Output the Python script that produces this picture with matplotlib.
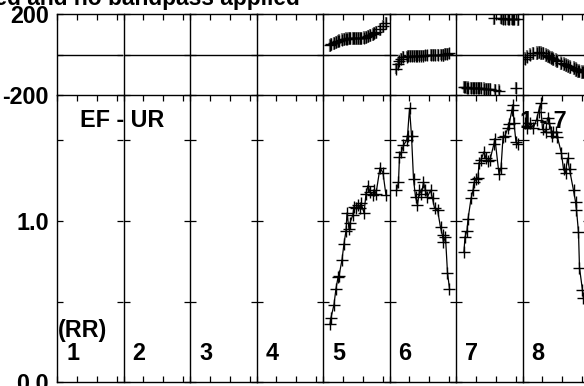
import matplotlib
matplotlib.use("Agg")
import matplotlib.pyplot as plt

plt.rcParams['font.family'] = ['Liberation Sans', 'DejaVu Sans']
plt.rcParams['font.weight'] = 'bold'

# ---------------- data ----------------
panel_labels = ["1", "2", "3", "4", "5", "6", "7", "8"]
title_text = "Calibrated and no bandpass applied"
baseline_label = "EF - UR"
ant_label = "1 - 7"
pol_label = "(RR)"

# time within each panel (minutes, 0-10)
t5 = [1.05, 1.2, 1.65, 1.95, 2.26, 2.41, 2.86, 3.16, 3.46, 3.61, 3.91, 4.06, 4.51, 4.66,
      4.96, 5.26, 5.56, 5.71, 6.17, 6.47, 6.77, 7.07, 7.52, 7.67, 7.97, 8.57, 9.02, 9.47]
amp5 = [0.36, 0.40, 0.48, 0.58, 0.65, 0.66, 0.76, 0.86, 0.94, 1.05, 0.95, 0.99, 1.04, 1.09,
        1.08, 1.10, 1.08, 1.11, 1.05, 1.17, 1.22, 1.18, 1.16, 1.19, 1.17, 1.33, 1.30, 1.16]
ph5 = [45, 50, 55, 60, 65, 68, 72, 75, 78, 78, 80, 80, 80, 80,
       80, 80, 80, 80, 82, 85, 90, 95, 100, 105, 110, 125, 140, 155]

t6 = [1.05, 1.35, 1.5, 1.8, 2.1, 2.56, 2.71, 3.01, 3.31, 3.61, 3.91, 4.21, 4.51, 4.81,
      5.11, 5.41, 5.71, 6.17, 6.47, 6.77, 7.22, 7.67, 7.97, 8.12, 8.42, 8.72, 9.02]
amp6 = [1.19, 1.24, 1.40, 1.43, 1.47, 1.50, 1.53, 1.70, 1.53, 1.26, 1.15, 1.10, 1.19, 1.17,
        1.24, 1.19, 1.15, 1.19, 1.14, 1.08, 1.07, 0.96, 0.91, 0.87, 0.90, 0.68, 0.58]
ph6 = [-70, -45, -30, -20, -12, -10, -8, -8, -7, -7, -6, -6, -5, -5,
       -5, -4, -4, -3, -3, -2, -2, -1, 0, 0, 2, 3, 5]

t7 = [1.2, 1.35, 1.65, 1.8, 2.26, 2.56, 2.71, 3.01, 3.31, 3.46, 3.76, 4.21, 4.51, 4.81,
      5.11, 5.71, 5.86, 6.47, 6.77, 7.07, 7.37, 7.82, 7.97, 8.42, 8.57, 8.72, 9.02, 9.32]
amp7 = [0.81, 0.90, 0.94, 1.01, 1.14, 1.19, 1.24, 1.26, 1.27, 1.36, 1.38, 1.43, 1.39, 1.37,
        1.38, 1.48, 1.51, 1.29, 1.33, 1.52, 1.53, 1.58, 1.60, 1.69, 1.72, 1.61, 1.49, 1.48]
ph7 = [-160, -162, -163, -163, -164, -165, -165, -166, -166, -167, -167, -168, -169, -170,
       -171, 178, -175, -178, 179, 177, 176, 175, 175, 174, 174, 174, -165, 173]

t8 = [0.45, 0.75, 1.2, 1.65, 2.11, 2.41, 2.71, 3.01, 3.46, 3.76, 4.06, 4.36, 4.51, 4.66,
      5.11, 5.26, 5.86, 6.17, 6.47, 6.77, 7.07, 7.67, 7.97, 8.12, 8.42, 8.57, 9.02, 9.17]
amp8 = [1.61, 1.58, 1.61, 1.58, 1.63, 1.68, 1.73, 1.57, 1.55, 1.64, 1.61, 1.55, 1.53, 1.55,
        1.55, 1.52, 1.42, 1.32, 1.30, 1.39, 1.32, 1.19, 1.12, 1.07, 0.93, 0.71, 0.57, 0.52]
ph8 = [-20, -10, 0, 5, 8, 10, 8, 5, -2, -6, -10, -15, -18, -22,
       -28, -32, -42, -46, -50, -55, -60, -68, -73, -75, -80, -82, -86, -88]

phase_err = [32, 28, 30, 34]

panel_data = {4: (t5, amp5, ph5, phase_err[0]),
              5: (t6, amp6, ph6, phase_err[1]),
              6: (t7, amp7, ph7, phase_err[2]),
              7: (t8, amp8, ph8, phase_err[3])}

# ---------------- layout ----------------
W, H = 584, 386
fig = plt.figure(figsize=(W / 100, H / 100), dpi=100)

x0 = 57.0
pw = 66.5
low_top, low_bot = 95.0, 382.0
up_top, up_bot = 14.0, 95.0
FS = 16.8

amp_top = (low_bot - low_top) / 161.0

def fx(px):
    return px / W

def fy(py):
    return 1 - py / H

for i, lab in enumerate(panel_labels):
    left = (x0 + i * pw) / W
    axl = fig.add_axes([left, (H - low_bot) / H, pw / W, (low_bot - low_top) / H])
    axu = fig.add_axes([left, (H - up_bot) / H, pw / W, (up_bot - up_top) / H])

    for ax in (axl, axu):
        ax.patch.set_visible(False)
        ax.set_xlim(0, 10)
        ax.set_xticks([0, 3, 6, 9])
        ax.set_xticklabels([])
        for s in ax.spines.values():
            s.set_linewidth(1.0)
            s.set_color('black')
        if i < len(panel_labels) - 1:
            ax.spines['right'].set_visible(False)
        ax.tick_params(direction='in', length=4.5, width=0.9, color='black',
                       top=True, right=True, labelsize=FS)
    axu.tick_params(bottom=False)
    axu.spines['bottom'].set_visible(False)

    axl.set_ylim(0, amp_top)
    axl.set_yticks([0, 0.5, 1.0, 1.5])
    axu.set_ylim(-200, 200)
    axu.set_yticks([-200, 0, 200])
    axu.axhline(0, color='black', lw=1.0)

    if i == 0:
        axl.set_yticklabels(['0.0', '', '1.0', ''], fontweight='bold')
        axu.set_yticklabels(['-200', '', '200'], fontweight='bold')
        axl.tick_params(axis='y', pad=6)
        axu.tick_params(axis='y', pad=6)
    else:
        axl.set_yticklabels([])
        axu.set_yticklabels([])

    fig.text(fx(x0 + i * pw + 9), fy(360), lab, fontsize=FS, fontweight='bold',
             ha='left', va='baseline', zorder=10)

    if i in panel_data:
        t, amp, ph, err = panel_data[i]
        axl.plot(t, amp, color='black', lw=0.9, marker='+', markersize=8,
                 markeredgewidth=1.0, clip_on=True)
        axu.errorbar(t, ph, yerr=err, fmt='none', ecolor='#808080', elinewidth=1.6)
        axu.plot(t, ph, ls='none', marker='+', color='black', markersize=8,
                 markeredgewidth=1.0)

fig.text(fx(58), fy(337), pol_label, fontsize=FS, fontweight='bold',
         ha='left', va='baseline', zorder=10)
fig.text(fx(80), fy(127), baseline_label, fontsize=FS, fontweight='bold',
         ha='left', va='baseline', zorder=10)
fig.text(fx(520), fy(128), ant_label, fontsize=FS, fontweight='bold',
         ha='left', va='baseline', zorder=10)

fig.text(fx(300), fy(5), title_text, fontsize=16.4, fontweight='bold',
         ha='right', va='baseline')

fig.savefig("out.png", dpi=100)
